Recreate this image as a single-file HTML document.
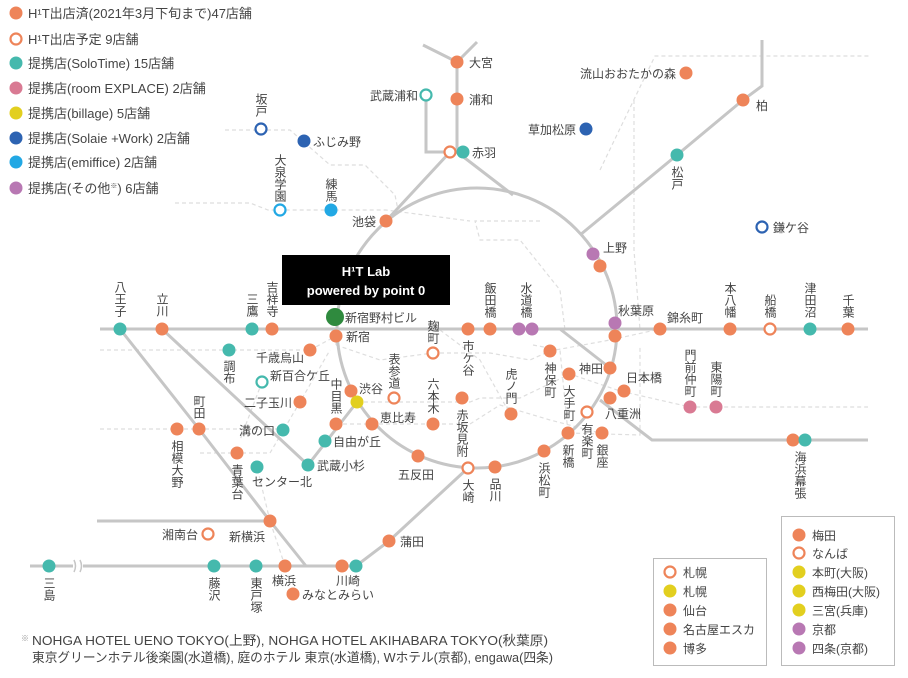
<!DOCTYPE html>
<html><head><meta charset="utf-8"><style>
html,body{margin:0;padding:0;background:#fff;}
svg{display:block;font-family:"Liberation Sans","Noto Sans CJK JP",sans-serif;}
text{fill:#444;font-size:12px;}
.lg text{font-size:13px;}
.v{writing-mode:vertical-rl;}
.o{fill:#ee8459}.t{fill:#45b9ad}.p{fill:#d97a93}.y{fill:#e2cf1f}.n{fill:#2d63b2}.b{fill:#22a8e4}.u{fill:#b878b3}
.ho{fill:#fff;stroke:#ee8459;stroke-width:2.2}.ht{fill:#fff;stroke:#45b9ad;stroke-width:2.2}.hn{fill:#fff;stroke:#2d63b2;stroke-width:2.2}.hb{fill:#fff;stroke:#22a8e4;stroke-width:2.2}
.l{stroke:#c6c6c6;stroke-width:3;fill:none}
.d{stroke:#dedede;stroke-width:1.2;fill:none;stroke-dasharray:4 3}
</style></head><body>
<svg width="908" height="678" viewBox="0 0 908 678">
<g class="d">
<path d="M225 130 H290 L330 165 H365 L395 195 L398 210"/>
<path d="M175 203 H250 L268 210 H386 L470 221"/>
<path d="M540 221 L475 221 L480 240 H520 L560 290 L565 330"/>
<path d="M600 170 L655 56 H870"/>
<path d="M634 100 V250 L640 330"/>
<path d="M100 350 H310 L336 336 L336 345"/>
<path d="M100 429 H283"/>
<path d="M200 453 H270 L300 402 L330 350"/>
<path d="M262 382 L240 440"/>
<path d="M270 521 L257 467"/>
<path d="M285 566 L270 521"/>
<path d="M357 402 H470 L480 398 H520 L570 374 L620 391 L690 407 H868"/>
<path d="M372 424 H470 L500 405 L550 420 L600 433"/>
<path d="M336 424 H372"/>
<path d="M433 353 H490 L530 360 L550 351 L610 340 L660 329"/>
<path d="M440 330 L480 360 L510 414"/>
<path d="M533 345 L560 350 L568 433 L640 435 V345"/>
<path d="M336 345 L380 360 L433 353"/>
</g>
<g class="l">
<circle cx="477" cy="328" r="140"/>
<path d="M100 329 H868"/>
<path d="M423 45 L457 62 L477 42 M457 62 V152 L513 195"/>
<path d="M426 95 V152 H450 L386 221"/>
<path d="M580 235 L677 155 L743 100 L762 86 V40"/>
<path d="M120 329 L199 429 L270 521 L306 566"/>
<path d="M162 329 L308 465 L357 402"/>
<path d="M30 566 H342 L356 566 L389 541 L468 468"/>
<path d="M97 521 H270"/>
<path d="M560 329 L610 368"/>
<path d="M600 400 L652 440 H868"/>
</g>
<rect x="73" y="560" width="10" height="12" fill="#fff"/>
<path d="M74 560 q3 6 0 12 M80 560 q3 6 0 12" stroke="#c6c6c6" stroke-width="1.5" fill="none"/>

<g class="lg">
<circle class="o" cx="16" cy="13" r="6.5"/><text x="28" y="18">H¹T出店済(2021年3月下旬まで)47店舗</text>
<circle class="ho" cx="16" cy="39" r="5.5"/><text x="28" y="44">H¹T出店予定 9店舗</text>
<circle class="t" cx="16" cy="63" r="6.5"/><text x="28" y="68">提携店(SoloTime) 15店舗</text>
<circle class="p" cx="16" cy="88" r="6.5"/><text x="28" y="93">提携店(room EXPLACE) 2店舗</text>
<circle class="y" cx="16" cy="113" r="6.5"/><text x="28" y="118">提携店(billage) 5店舗</text>
<circle class="n" cx="16" cy="138" r="6.5"/><text x="28" y="143">提携店(Solaie +Work) 2店舗</text>
<circle class="b" cx="16" cy="162" r="6.5"/><text x="28" y="167">提携店(emiffice) 2店舗</text>
<circle class="u" cx="16" cy="188" r="6.5"/><text x="28" y="193">提携店(その他<tspan font-size="7" dy="-5">※</tspan><tspan dy="5">) 6店舗</tspan></text>
</g>

<rect x="282" y="255" width="168" height="50" fill="#000"/>
<text x="366" y="276" text-anchor="middle" style="fill:#fff;font-weight:bold;font-size:13px">H¹T Lab</text>
<text x="366" y="295" text-anchor="middle" style="fill:#fff;font-weight:bold;font-size:13px">powered by point 0</text>

<g>
<circle class="o" cx="457" cy="62" r="6.5"/><circle class="o" cx="457" cy="99" r="6.5"/>
<circle class="ht" cx="426" cy="95" r="5.5"/>
<circle class="ho" cx="450" cy="152" r="5.5"/><circle class="t" cx="463" cy="152" r="6.5"/>
<circle class="o" cx="686" cy="73" r="6.5"/><circle class="n" cx="586" cy="129" r="6.5"/>
<circle class="o" cx="743" cy="100" r="6.5"/><circle class="t" cx="677" cy="155" r="6.5"/>
<circle class="hn" cx="762" cy="227" r="5.5"/>
<circle class="hn" cx="261" cy="129" r="5.5"/><circle class="n" cx="304" cy="141" r="6.5"/>
<circle class="hb" cx="280" cy="210" r="5.5"/><circle class="b" cx="331" cy="210" r="6.5"/>
<circle class="o" cx="386" cy="221" r="6.5"/>
<circle class="u" cx="593" cy="254" r="6.5"/><circle class="o" cx="600" cy="266" r="6.5"/>
<circle class="t" cx="120" cy="329" r="6.5"/><circle class="o" cx="162" cy="329" r="6.5"/>
<circle class="t" cx="252" cy="329" r="6.5"/><circle class="o" cx="272" cy="329" r="6.5"/>
<circle cx="335" cy="317" r="9" fill="#2f8a3e"/>
<circle class="o" cx="336" cy="336" r="6.5"/>
<circle class="o" cx="468" cy="329" r="6.5"/><circle class="o" cx="490" cy="329" r="6.5"/>
<circle class="u" cx="519" cy="329" r="6.5"/><circle class="u" cx="532" cy="329" r="6.5"/>
<circle class="u" cx="615" cy="323" r="6.5"/><circle class="o" cx="615" cy="336" r="6.5"/>
<circle class="o" cx="660" cy="329" r="6.5"/><circle class="o" cx="730" cy="329" r="6.5"/>
<circle class="ho" cx="770" cy="329" r="5.5"/><circle class="t" cx="810" cy="329" r="6.5"/>
<circle class="o" cx="848" cy="329" r="6.5"/>
<circle class="t" cx="229" cy="350" r="6.5"/><circle class="o" cx="310" cy="350" r="6.5"/>
<circle class="ht" cx="262" cy="382" r="5.5"/><circle class="o" cx="300" cy="402" r="6.5"/>
<circle class="o" cx="177" cy="429" r="6.5"/><circle class="o" cx="199" cy="429" r="6.5"/>
<circle class="t" cx="283" cy="430" r="6.5"/><circle class="o" cx="237" cy="453" r="6.5"/>
<circle class="t" cx="257" cy="467" r="6.5"/><circle class="t" cx="308" cy="465" r="6.5"/>
<circle class="t" cx="325" cy="441" r="6.5"/><circle class="o" cx="336" cy="424" r="6.5"/>
<circle class="o" cx="351" cy="391" r="6.5"/><circle class="y" cx="357" cy="402" r="6.5"/>
<circle class="o" cx="372" cy="424" r="6.5"/><circle class="o" cx="418" cy="456" r="6.5"/>
<circle class="ho" cx="394" cy="398" r="5.5"/><circle class="ho" cx="433" cy="353" r="5.5"/>
<circle class="o" cx="433" cy="424" r="6.5"/><circle class="o" cx="462" cy="398" r="6.5"/>
<circle class="o" cx="511" cy="414" r="6.5"/><circle class="o" cx="550" cy="351" r="6.5"/>
<circle class="o" cx="569" cy="374" r="6.5"/><circle class="o" cx="610" cy="368" r="6.5"/>
<circle class="o" cx="624" cy="391" r="6.5"/><circle class="o" cx="610" cy="398" r="6.5"/>
<circle class="o" cx="602" cy="433" r="6.5"/><circle class="ho" cx="587" cy="412" r="5.5"/>
<circle class="o" cx="568" cy="433" r="6.5"/><circle class="o" cx="544" cy="451" r="6.5"/>
<circle class="o" cx="495" cy="467" r="6.5"/><circle class="ho" cx="468" cy="468" r="5.5"/>
<circle class="p" cx="690" cy="407" r="6.5"/><circle class="p" cx="716" cy="407" r="6.5"/>
<circle class="o" cx="793" cy="440" r="6.5"/><circle class="t" cx="805" cy="440" r="6.5"/>
<circle class="o" cx="270" cy="521" r="6.5"/><circle class="ho" cx="208" cy="534" r="5.5"/>
<circle class="t" cx="49" cy="566" r="6.5"/><circle class="t" cx="214" cy="566" r="6.5"/>
<circle class="t" cx="256" cy="566" r="6.5"/><circle class="o" cx="285" cy="566" r="6.5"/>
<circle class="o" cx="342" cy="566" r="6.5"/><circle class="t" cx="356" cy="566" r="6.5"/>
<circle class="o" cx="293" cy="594" r="6.5"/><circle class="o" cx="389" cy="541" r="6.5"/>
</g>

<g>
<text x="469" y="67">大宮</text><text x="469" y="104">浦和</text>
<text x="418" y="100" text-anchor="end">武蔵浦和</text><text x="472" y="157">赤羽</text>
<text x="676" y="78" text-anchor="end">流山おおたかの森</text>
<text x="576" y="134" text-anchor="end">草加松原</text>
<text x="756" y="110">柏</text><text x="773" y="232">鎌ケ谷</text>
<text x="313" y="146">ふじみ野</text><text x="376" y="226" text-anchor="end">池袋</text>
<text x="603" y="252">上野</text><text x="618" y="315">秋葉原</text><text x="667" y="322">錦糸町</text>
<text x="345" y="322">新宿野村ビル</text><text x="346" y="341">新宿</text>
<text x="304" y="362" text-anchor="end">千歳烏山</text><text x="270" y="380">新百合ケ丘</text>
<text x="359" y="393">渋谷</text><text x="292" y="407" text-anchor="end">二子玉川</text>
<text x="380" y="422">恵比寿</text><text x="275" y="435" text-anchor="end">溝の口</text>
<text x="333" y="446">自由が丘</text><text x="317" y="470">武蔵小杉</text>
<text x="398" y="479">五反田</text><text x="252" y="486">センター北</text>
<text x="603" y="373" text-anchor="end">神田</text><text x="626" y="382">日本橋</text>
<text x="605" y="418">八重洲</text>
<text x="198" y="539" text-anchor="end">湘南台</text><text x="229" y="541">新横浜</text>
<text x="272" y="585">横浜</text><text x="336" y="585">川崎</text>
<text x="302" y="599">みなとみらい</text><text x="400" y="546">蒲田</text>
</g>

<g class="v">
<text x="120" y="317" text-anchor="end">八王子</text>
<text x="162" y="317" text-anchor="end">立川</text>
<text x="252" y="317" text-anchor="end">三鷹</text>
<text x="272" y="317" text-anchor="end">吉祥寺</text>
<text x="261" y="117" text-anchor="end">坂戸</text>
<text x="280" y="202" text-anchor="end">大泉学園</text>
<text x="331" y="202" text-anchor="end">練馬</text>
<text x="677" y="166">松戸</text>
<text x="490" y="318" text-anchor="end">飯田橋</text>
<text x="526" y="318" text-anchor="end">水道橋</text>
<text x="730" y="318" text-anchor="end">本八幡</text>
<text x="770" y="318" text-anchor="end">船橋</text>
<text x="810" y="318" text-anchor="end">津田沼</text>
<text x="848" y="318" text-anchor="end">千葉</text>
<text x="468" y="340">市ケ谷</text>
<text x="433" y="344" text-anchor="end">麹町</text>
<text x="229" y="360">調布</text>
<text x="394" y="389" text-anchor="end">表参道</text>
<text x="433" y="414" text-anchor="end">六本木</text>
<text x="336" y="414" text-anchor="end">中目黒</text>
<text x="199" y="419" text-anchor="end">町田</text>
<text x="177" y="440">相模大野</text>
<text x="237" y="464">青葉台</text>
<text x="462" y="409">赤坂見附</text>
<text x="511" y="404" text-anchor="end">虎ノ門</text>
<text x="550" y="362">神保町</text>
<text x="569" y="385">大手町</text>
<text x="587" y="423">有楽町</text>
<text x="568" y="444">新橋</text>
<text x="602" y="444">銀座</text>
<text x="544" y="462">浜松町</text>
<text x="495" y="478">品川</text>
<text x="468" y="479">大崎</text>
<text x="690" y="397" text-anchor="end">門前仲町</text>
<text x="716" y="397" text-anchor="end">東陽町</text>
<text x="800" y="451">海浜幕張</text>
<text x="49" y="577">三島</text>
<text x="214" y="577">藤沢</text>
<text x="256" y="577">東戸塚</text>
</g>

<rect x="653.5" y="558.5" width="113" height="107" fill="#fff" stroke="#bbb"/>
<circle class="ho" cx="670" cy="572" r="5.5"/><text x="683" y="577">札幌</text>
<circle class="y" cx="670" cy="591" r="6.5"/><text x="683" y="596">札幌</text>
<circle class="o" cx="670" cy="610" r="6.5"/><text x="683" y="615">仙台</text>
<circle class="o" cx="670" cy="629" r="6.5"/><text x="683" y="634">名古屋エスカ</text>
<circle class="o" cx="670" cy="648" r="6.5"/><text x="683" y="653">博多</text>

<rect x="781.5" y="516.5" width="113" height="149" fill="#fff" stroke="#bbb"/>
<circle class="o" cx="799" cy="535" r="6.5"/><text x="812" y="540">梅田</text>
<circle class="ho" cx="799" cy="553" r="5.5"/><text x="812" y="558">なんば</text>
<circle class="y" cx="799" cy="572" r="6.5"/><text x="812" y="577">本町(大阪)</text>
<circle class="y" cx="799" cy="591" r="6.5"/><text x="812" y="596">西梅田(大阪)</text>
<circle class="y" cx="799" cy="610" r="6.5"/><text x="812" y="615">三宮(兵庫)</text>
<circle class="u" cx="799" cy="629" r="6.5"/><text x="812" y="634">京都</text>
<circle class="u" cx="799" cy="648" r="6.5"/><text x="812" y="653">四条(京都)</text>

<text x="21" y="641" style="font-size:8px;fill:#999">※</text>
<text x="32" y="645" style="font-size:13px" textLength="516" lengthAdjust="spacingAndGlyphs">NOHGA HOTEL UENO TOKYO(上野), NOHGA HOTEL AKIHABARA TOKYO(秋葉原)</text>
<text x="32" y="662" style="font-size:13px" textLength="521" lengthAdjust="spacingAndGlyphs">東京グリーンホテル後楽園(水道橋), 庭のホテル 東京(水道橋), Wホテル(京都), engawa(四条)</text>
</svg>
</body></html>
